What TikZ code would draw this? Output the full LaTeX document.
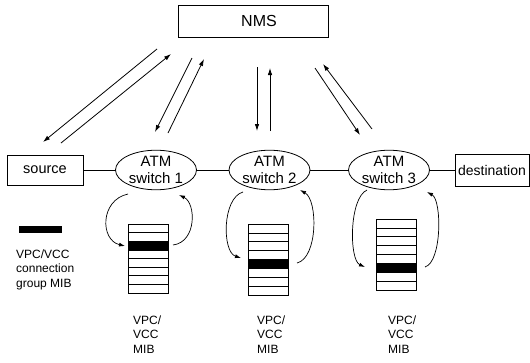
\documentclass[tikz,border=0pt]{standalone}
\usepackage{fontspec}
\setmainfont{Liberation Sans}
\usetikzlibrary{arrows.meta,shapes.geometric}
\begin{document}
\begin{tikzpicture}[x=1pt,y=-1pt,
  box/.style={draw, line width=0.8pt, rectangle, inner sep=1.5pt},
  switchnode/.style={draw, ellipse, line width=0.8pt, minimum width=81pt,
    minimum height=38pt, inner sep=0pt, align=center,
    font=\fontsize{15}{17.5}\selectfont},
  msg/.style={line width=0.8pt, -{Latex[length=7pt,width=4.5pt]}},
  loop/.style={line width=0.7pt, -{Latex[length=6pt,width=4pt]}},
  link/.style={line width=0.8pt},
  mib/.style={draw, line width=0.6pt, minimum width=40pt, inner sep=0pt},
  lbl/.style={align=left, anchor=north west, inner sep=0pt,
    font=\fontsize{12}{14.5}\selectfont}]
\useasboundingbox (0,0) rectangle (530,362);

% management station
\node[box, minimum width=150pt, minimum height=32pt] (nms) at (253,21) {};
\node[font=\fontsize{16}{19}\selectfont, inner sep=0pt] (nmstext) at (259,21) {NMS};

% end systems and switches
\node[box, minimum width=76pt, minimum height=30pt,
      font=\fontsize{14.5}{17}\selectfont] (src) at (45,170) {source};
\node[switchnode] (s1) at (156,170) {ATM\\switch 1};
\node[switchnode] (s2) at (269.5,170) {ATM\\switch 2};
\node[switchnode] (s3) at (389,170) {ATM\\switch 3};
\node[box, minimum width=74pt, minimum height=32pt,
      font=\fontsize{14}{17}\selectfont] (dst) at (492,170) {destination};

\draw[link] (src.east) -- (s1.west);
\draw[link] (s1.east) -- (s2.west);
\draw[link] (s2.east) -- (s3.west);
\draw[link] (s3.east) -- (dst.west);

% management message pairs
\coordinate (a1s) at (157,49);  \coordinate (a1e) at (43,142);
\coordinate (a2s) at (61,143);  \coordinate (a2e) at (171,54);
\coordinate (b1s) at (192,58);  \coordinate (b1e) at (155,132);
\coordinate (b2s) at (168,133); \coordinate (b2e) at (204,59);
\coordinate (c1s) at (257,67);  \coordinate (c1e) at (257,131);
\coordinate (c2s) at (270,131); \coordinate (c2e) at (270,68);
\coordinate (d1s) at (315,68);  \coordinate (d1e) at (360,135);
\coordinate (d2s) at (372,129); \coordinate (d2e) at (323,64);
\draw[msg] (a1s) -- (a1e);
\draw[msg] (a2s) -- (a2e);
\draw[msg] (b1s) -- (b1e);
\draw[msg] (b2s) -- (b2e);
\draw[msg] (c1s) -- (c1e);
\draw[msg] (c2s) -- (c2e);
\draw[msg] (d1s) -- (d1e);
\draw[msg] (d2s) -- (d2e);

% VPC/VCC MIB tables
\node[mib, minimum height=69pt] (t1) at (148,258.5) {};
\node[mib, minimum height=71pt] (t2) at (268,259.5) {};
\node[mib, minimum height=71pt] (t3) at (396,254.5) {};
\foreach \cx/\tp/\bt/\blk in {148/224/293/3, 268/224/295/5, 396/219/290/6} {
  \pgfmathsetmacro\rh{(\bt-\tp)/8}
  \fill ({\cx-20},{\tp+(\blk-1)*\rh}) rectangle ({\cx+20},{\tp+\blk*\rh});
  \foreach \k in {1,...,7}
    \draw[line width=0.6pt] ({\cx-20},{\tp+\k*\rh}) -- ({\cx+20},{\tp+\k*\rh});
}

% lookup loops between switch and table
\coordinate (l1s) at (128,194); \coordinate (l1e) at (125,246);
\coordinate (r1s) at (173,245); \coordinate (r1e) at (179,195);
\coordinate (l2s) at (243,192); \coordinate (l2e) at (241,258);
\coordinate (r2s) at (297,263); \coordinate (r2e) at (300,190);
\coordinate (l3s) at (367,190); \coordinate (l3e) at (365,267);
\coordinate (r3s) at (425,267); \coordinate (r3e) at (427,192);
\draw[loop] (l1s) .. controls (100,200) and (100,240) .. (l1e);
\draw[loop] (r1s) .. controls (197,242) and (196,203) .. (r1e);
\draw[loop] (l2s) .. controls (222,198) and (222,252) .. (l2e);
\draw[loop] (r2s) .. controls (318,258) and (318,200) .. (r2e);
\draw[loop] (l3s) .. controls (349,198) and (349,260) .. (l3e);
\draw[loop] (r3s) .. controls (442,262) and (442,200) .. (r3e);

% legend
\node[fill=black, minimum width=43pt, minimum height=7pt, inner sep=0pt]
  (key) at (40.5,229.5) {};
\node[lbl] (keytext) at (16,249.5) {VPC/VCC\\connection\\group MIB};

% table captions
\node[lbl] (m1) at (133,315.5) {VPC/\\VCC\\MIB};
\node[lbl] (m2) at (257,315.5) {VPC/\\VCC\\MIB};
\node[lbl] (m3) at (388,315.5) {VPC/\\VCC\\MIB};
\end{tikzpicture}
\end{document}
